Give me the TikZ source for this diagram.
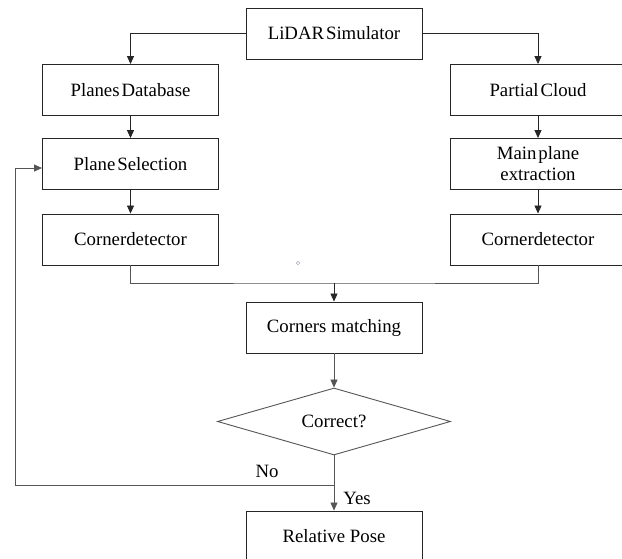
\documentclass[tikz,border=0pt]{standalone}
\usepackage{fontspec}
\setmainfont{Liberation Serif}
\usetikzlibrary{shapes.geometric,arrows.meta}
\definecolor{linegray}{HTML}{555555}
\definecolor{dotgray}{HTML}{A8AEC0}
\begin{document}
\begin{tikzpicture}[x=1pt,y=-1pt,
  txt/.style={font=\fontsize{18.8}{21}\selectfont},
  tight/.style={execute at begin node={\spaceskip=0.1em\relax}},
  box/.style={draw=black!85,line width=0.9pt,rectangle,minimum width=176pt,minimum height=51pt,inner sep=0pt,align=center,txt},
  decision/.style={draw=linegray,line width=0.9pt,diamond,shape aspect=3.48,minimum width=233pt,minimum height=67pt,inner sep=0pt,txt},
  conn/.style={draw=black!85,line width=0.8pt},
  arr/.style={conn,-{Triangle[length=8pt,width=7pt]}},
  lbl/.style={txt,inner sep=0pt}]
\useasboundingbox (0,0) rectangle (622,558);
% nodes
\node[box,tight] (lidar) at (334,33.5) {LiDAR Simulator};
\node[box,tight] (pdb) at (130.5,90) {Planes Database};
\node[box,tight] (pc) at (538,90) {Partial Cloud};
\node[box,tight] (ps) at (130.5,164) {Plane Selection};
\node[box,tight] (mpe) at (538,164) {Main plane\\extraction};
\node[box] (cdl) at (130.5,239.5) {Cornerdetector};
\node[box] (cdr) at (538,239.5) {Cornerdetector};
\node[box] (cm) at (334,327.5) {Corners matching};
\node[decision] (dec) at (334,421.5) {Correct?};
\node[box] (rp) at (334,536.5) {Relative Pose};
\node[lbl] (no) at (267,471) {No};
\node[lbl] (yes) at (357,498) {Yes};
\node[circle,draw=dotgray,line width=0.6pt,minimum size=3.5pt,inner sep=0pt] (dot) at (298,263) {};
% coordinates
\coordinate (m) at (334,283);
\coordinate (j) at (334,485);
\coordinate (fl) at (15,485);
\coordinate (fu) at (15,168);
% connectors
\draw[arr] (lidar.west) -| (pdb.north);
\draw[arr] (lidar.east) -| (pc.north);
\draw[arr] (pdb) -- (ps);
\draw[arr] (pc) -- (mpe);
\draw[arr] (ps) -- (cdl);
\draw[arr] (mpe) -- (cdr);
\draw[conn,draw=linegray] (cdl.south) |- (m) -| (cdr.south);
\draw[arr] (m) -- (cm.north);
\draw[arr,draw=linegray] (cm) -- (dec);
\draw[arr,draw=linegray] (dec.south) -- (rp.north);
\draw[arr,draw=linegray] (j) -- (fl) -- (fu) -- (ps.west |- fu);
\end{tikzpicture}
\end{document}
